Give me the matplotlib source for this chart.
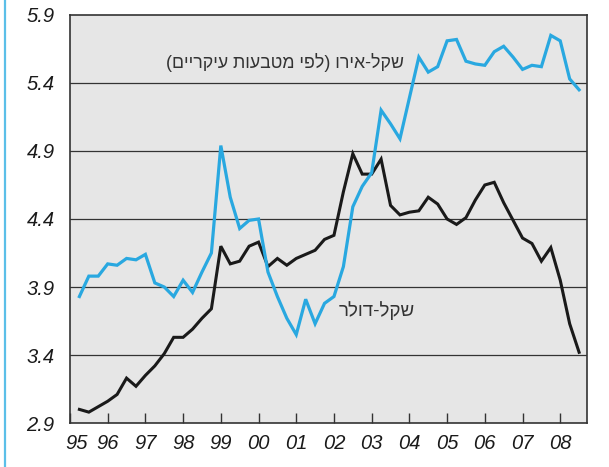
import numpy as np
import matplotlib
matplotlib.use('Agg')
import matplotlib.pyplot as plt
import matplotlib.transforms as mtransforms
from matplotlib.lines import Line2D

# quarterly exchange rates, 1995Q1 .. 2008Q2
usd = [3.00, 2.98, 3.02, 3.06, 3.11, 3.23, 3.17, 3.25, 3.32, 3.41,
       3.53, 3.53, 3.59, 3.67, 3.74, 4.20, 4.07, 4.09, 4.20, 4.23,
       4.05, 4.11, 4.06, 4.11, 4.14, 4.17, 4.25, 4.28, 4.60, 4.88,
       4.73, 4.73, 4.84, 4.50, 4.43, 4.45, 4.46, 4.56, 4.51, 4.40,
       4.36, 4.41, 4.54, 4.65, 4.67, 4.52, 4.39, 4.26, 4.22, 4.09,
       4.19, 3.95, 3.63, 3.42]
eur = [3.83, 3.98, 3.98, 4.07, 4.06, 4.11, 4.10, 4.14, 3.93, 3.90,
       3.83, 3.95, 3.86, 4.01, 4.15, 4.94, 4.56, 4.33, 4.39, 4.40,
       4.01, 3.83, 3.67, 3.55, 3.81, 3.63, 3.78, 3.83, 4.05, 4.49,
       4.64, 4.74, 5.20, 5.10, 4.99, 5.29, 5.59, 5.48, 5.52, 5.71,
       5.72, 5.56, 5.54, 5.53, 5.63, 5.67, 5.59, 5.50, 5.53, 5.52,
       5.75, 5.71, 5.43, 5.35]
years = list(range(1995, 2009))
year_labels = ['95', '96', '97', '98', '99', '00', '01', '02', '03', '04',
               '05', '06', '07', '08']
yticks = [2.9, 3.4, 3.9, 4.4, 4.9, 5.4, 5.9]
label_eur = 'שקל-אירו (לפי מטבעות עיקריים)'
label_usd = 'שקל-דולר'


def visual(s):
    # matplotlib has no bidi, so lay out the RTL text by hand
    swap = {'(': ')', ')': '('}
    return ''.join(swap.get(c, c) for c in s[::-1])


t = 1995.25 + 0.25 * np.arange(len(usd))

fig = plt.figure(figsize=(6.09, 4.67), dpi=100)
ax = fig.add_axes([0.1149, 0.0942, 0.8490, 0.8737])
ax.set_facecolor('#e6e6e6')

for v in yticks[1:-1]:
    ax.axhline(v, color='#333333', lw=0.9, zorder=1)

ax.plot(t, usd, color='#1a1a1a', lw=2.2, zorder=3, solid_joinstyle='miter')
ax.plot(t, eur, color='#29a8e0', lw=2.3, zorder=3, solid_joinstyle='miter')

ax.set_xlim(1995, 2008.71)
ax.set_ylim(2.9, 5.9)

fam = ['Liberation Sans', 'DejaVu Sans']
ax.set_yticks(yticks)
ax.set_yticklabels([f'{v:.1f}' for v in yticks], fontstyle='italic',
                   fontsize=14.5, family=fam, color='#1a1a1a')
ax.set_xticks(years)
ax.set_xticklabels(year_labels, fontstyle='italic', fontsize=14.5,
                   family=fam, color='#1a1a1a')
ax.tick_params(axis='y', length=0, pad=11)
ax.tick_params(axis='x', direction='in', length=7, width=1,
               color='#333333', pad=8)
# first label sits a bit right of the axis edge
lab0 = ax.get_xticklabels()[0]
lab0.set_transform(lab0.get_transform() +
                   mtransforms.ScaledTranslation(7 / 100, 0, fig.dpi_scale_trans))

for s in ax.spines.values():
    s.set_color('#333333')
    s.set_linewidth(1.2)

ax.text(2000.70, 5.55, visual(label_eur), fontsize=12.8, family=fam,
        color='#333333', ha='center', va='center', zorder=4)
ax.text(2003.14, 3.73, visual(label_usd), fontsize=13.5, family=fam,
        color='#333333', ha='center', va='center', zorder=4)

fig.add_artist(Line2D([5 / 609, 5 / 609], [0, 1], transform=fig.transFigure,
                      color='#5bbfe8', lw=1.6))

fig.savefig('out.png', dpi=100)
